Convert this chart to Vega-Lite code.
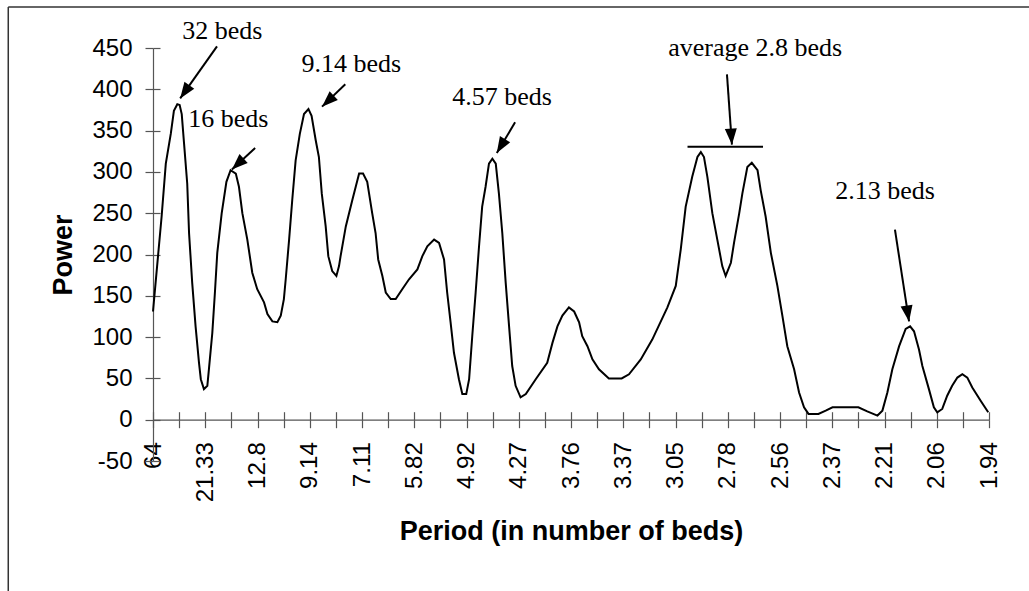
{
  "$schema": "https://vega.github.io/schema/vega-lite/v6.json",
  "width": 836,
  "height": 413,
  "autosize": {"type": "none"},
  "padding": {"left": 153, "top": 48, "right": 40, "bottom": 130},
  "background": "white",
  "config": {"view": {"stroke": null}, "font": "Liberation Sans"},
  "datasets": {
    "curve": [
      {"k": 1.00, "power": 131}, {"k": 1.10, "power": 166}, {"k": 1.33, "power": 246}, {"k": 1.49, "power": 310},
      {"k": 1.68, "power": 346}, {"k": 1.80, "power": 374}, {"k": 1.93, "power": 382}, {"k": 2.02, "power": 381},
      {"k": 2.10, "power": 370}, {"k": 2.19, "power": 334}, {"k": 2.31, "power": 286}, {"k": 2.38, "power": 226},
      {"k": 2.50, "power": 166}, {"k": 2.63, "power": 113}, {"k": 2.76, "power": 69}, {"k": 2.83, "power": 49},
      {"k": 2.95, "power": 37}, {"k": 3.08, "power": 41}, {"k": 3.14, "power": 61}, {"k": 3.27, "power": 105},
      {"k": 3.37, "power": 154}, {"k": 3.46, "power": 202}, {"k": 3.63, "power": 250}, {"k": 3.81, "power": 288},
      {"k": 3.97, "power": 302}, {"k": 4.17, "power": 298}, {"k": 4.29, "power": 282}, {"k": 4.42, "power": 250},
      {"k": 4.61, "power": 218}, {"k": 4.80, "power": 178}, {"k": 4.99, "power": 158}, {"k": 5.25, "power": 142},
      {"k": 5.38, "power": 128}, {"k": 5.57, "power": 119}, {"k": 5.76, "power": 118}, {"k": 5.89, "power": 126},
      {"k": 6.01, "power": 146}, {"k": 6.08, "power": 170}, {"k": 6.21, "power": 218}, {"k": 6.33, "power": 266},
      {"k": 6.46, "power": 314}, {"k": 6.62, "power": 346}, {"k": 6.78, "power": 370}, {"k": 6.95, "power": 376},
      {"k": 7.07, "power": 368}, {"k": 7.23, "power": 338}, {"k": 7.35, "power": 318}, {"k": 7.46, "power": 274},
      {"k": 7.61, "power": 234}, {"k": 7.71, "power": 198}, {"k": 7.86, "power": 180}, {"k": 8.02, "power": 174},
      {"k": 8.12, "power": 186}, {"k": 8.18, "power": 198}, {"k": 8.38, "power": 234}, {"k": 8.63, "power": 266},
      {"k": 8.76, "power": 282}, {"k": 8.89, "power": 298}, {"k": 9.04, "power": 298}, {"k": 9.20, "power": 288},
      {"k": 9.27, "power": 274}, {"k": 9.39, "power": 250}, {"k": 9.52, "power": 226}, {"k": 9.62, "power": 194},
      {"k": 9.78, "power": 174}, {"k": 9.91, "power": 154}, {"k": 10.10, "power": 146}, {"k": 10.29, "power": 146},
      {"k": 10.54, "power": 158}, {"k": 10.80, "power": 170}, {"k": 11.12, "power": 182}, {"k": 11.31, "power": 198},
      {"k": 11.50, "power": 210}, {"k": 11.76, "power": 218}, {"k": 11.95, "power": 214}, {"k": 12.14, "power": 194},
      {"k": 12.26, "power": 154}, {"k": 12.39, "power": 118}, {"k": 12.52, "power": 81}, {"k": 12.71, "power": 49},
      {"k": 12.84, "power": 31}, {"k": 12.99, "power": 31}, {"k": 13.10, "power": 49}, {"k": 13.22, "power": 101},
      {"k": 13.35, "power": 154}, {"k": 13.48, "power": 210}, {"k": 13.60, "power": 258}, {"k": 13.73, "power": 282},
      {"k": 13.86, "power": 310}, {"k": 13.99, "power": 316}, {"k": 14.12, "power": 310}, {"k": 14.24, "power": 274},
      {"k": 14.37, "power": 226}, {"k": 14.50, "power": 166}, {"k": 14.63, "power": 113}, {"k": 14.75, "power": 65},
      {"k": 14.88, "power": 41}, {"k": 15.07, "power": 27}, {"k": 15.27, "power": 31}, {"k": 15.65, "power": 49},
      {"k": 16.09, "power": 69}, {"k": 16.29, "power": 93}, {"k": 16.48, "power": 113}, {"k": 16.67, "power": 126},
      {"k": 16.92, "power": 136}, {"k": 17.12, "power": 131}, {"k": 17.31, "power": 118}, {"k": 17.43, "power": 101},
      {"k": 17.63, "power": 89}, {"k": 17.82, "power": 73}, {"k": 18.07, "power": 61}, {"k": 18.45, "power": 50},
      {"k": 18.94, "power": 50}, {"k": 19.22, "power": 55}, {"k": 19.67, "power": 73}, {"k": 20.11, "power": 97},
      {"k": 20.69, "power": 136}, {"k": 21.01, "power": 162}, {"k": 21.20, "power": 206}, {"k": 21.39, "power": 258},
      {"k": 21.64, "power": 294}, {"k": 21.84, "power": 318}, {"k": 21.97, "power": 324}, {"k": 22.09, "power": 318},
      {"k": 22.22, "power": 294}, {"k": 22.41, "power": 250}, {"k": 22.60, "power": 218}, {"k": 22.79, "power": 186},
      {"k": 22.92, "power": 174}, {"k": 23.12, "power": 190}, {"k": 23.24, "power": 214}, {"k": 23.44, "power": 250},
      {"k": 23.56, "power": 274}, {"k": 23.75, "power": 306}, {"k": 23.92, "power": 311}, {"k": 24.14, "power": 302},
      {"k": 24.26, "power": 278}, {"k": 24.45, "power": 246}, {"k": 24.65, "power": 202}, {"k": 24.90, "power": 162},
      {"k": 25.09, "power": 126}, {"k": 25.28, "power": 89}, {"k": 25.54, "power": 61}, {"k": 25.73, "power": 33},
      {"k": 25.92, "power": 15}, {"k": 26.09, "power": 7}, {"k": 26.47, "power": 7}, {"k": 26.75, "power": 11},
      {"k": 27.01, "power": 15}, {"k": 28.00, "power": 15}, {"k": 28.34, "power": 10}, {"k": 28.73, "power": 5},
      {"k": 28.92, "power": 11}, {"k": 29.11, "power": 33}, {"k": 29.30, "power": 61}, {"k": 29.56, "power": 89},
      {"k": 29.81, "power": 110}, {"k": 29.98, "power": 113}, {"k": 30.13, "power": 107}, {"k": 30.32, "power": 85},
      {"k": 30.45, "power": 65}, {"k": 30.70, "power": 37}, {"k": 30.89, "power": 15}, {"k": 31.02, "power": 9},
      {"k": 31.21, "power": 13}, {"k": 31.40, "power": 29}, {"k": 31.59, "power": 41}, {"k": 31.79, "power": 51},
      {"k": 31.98, "power": 55}, {"k": 32.17, "power": 51}, {"k": 32.36, "power": 39}, {"k": 32.68, "power": 23},
      {"k": 32.97, "power": 9}
    ],
    "notes": [
      {"label": "32 beds", "tx": 3.65, "ty": 471, "x1": 3.45, "y1": 452, "x2": 2.04, "y2": 389, "angle": 215},
      {"label": "16 beds", "tx": 3.88, "ty": 364, "x1": 4.91, "y1": 329, "x2": 4.02, "y2": 303, "angle": 227},
      {"label": "9.14 beds", "tx": 8.59, "ty": 431, "x1": 8.36, "y1": 406, "x2": 7.47, "y2": 379, "angle": 227},
      {"label": "4.57 beds", "tx": 14.36, "ty": 391, "x1": 14.86, "y1": 360, "x2": 14.16, "y2": 323, "angle": 211},
      {"label": "average 2.8 beds", "tx": 24.05, "ty": 450, "x1": 22.97, "y1": 418, "x2": 23.16, "y2": 333, "angle": 176},
      {"label": "2.13 beds", "tx": 29.02, "ty": 277, "x1": 29.40, "y1": 230, "x2": 29.94, "y2": 119, "angle": 171}
    ],
    "bar": [
      {"from": 21.46, "to": 24.35, "level": 330.5}
    ]
  },
  "resolve": {"axis": {"x": "independent", "y": "independent"}},
  "layer": [
    {
      "data": {"name": "curve"},
      "mark": {"type": "line", "color": "black", "strokeWidth": 2},
      "encoding": {
        "x": {
          "field": "k", "type": "quantitative",
          "scale": {"domain": [1, 33], "nice": false, "zero": false},
          "axis": {
            "orient": "bottom", "offset": -41.3,
            "values": [1,2,3,4,5,6,7,8,9,10,11,12,13,14,15,16,17,18,19,20,21,22,23,24,25,26,27,28,29,30,31,32,33],
            "labelExpr": "['64','','21.33','','12.8','','9.14','','7.11','','5.82','','4.92','','4.27','','3.76','','3.37','','3.05','','2.78','','2.56','','2.37','','2.21','','2.06','','1.94'][datum.value - 1]",
            "labelAngle": 270, "labelFontSize": 24, "labelColor": "black", "labelPadding": 14,
            "labelOverlap": false, "labelFlush": false, "labelBound": false,
            "tickSize": 8, "tickColor": "#555", "tickWidth": 1.2, "domainColor": "#555", "domainWidth": 1.2,
            "grid": false,
            "title": "Period (in number of beds)", "titleFontSize": 27, "titleFontWeight": "bold",
            "titleColor": "black", "titlePadding": 17
          }
        },
        "y": {
          "field": "power", "type": "quantitative",
          "scale": {"domain": [-50, 450], "nice": false, "zero": false},
          "axis": {
            "orient": "left",
            "values": [-50, 0, 50, 100, 150, 200, 250, 300, 350, 400, 450],
            "labelExpr": "'' + datum.value",
            "labelFontSize": 24, "labelColor": "black", "labelPadding": 13,
            "tickSize": 8, "tickColor": "#555", "tickWidth": 1.2, "domainColor": "#555", "domainWidth": 1.2,
            "grid": false,
            "title": "Power", "titleFontSize": 27, "titleFontWeight": "bold", "titleColor": "black", "titlePadding": 14
          }
        }
      }
    },
    {
      "data": {"name": "notes"},
      "mark": {"type": "rule", "color": "black", "strokeWidth": 2},
      "encoding": {
        "x": {
          "field": "x1", "type": "quantitative",
          "axis": {
            "orient": "bottom", "offset": -41.3,
            "values": [1,2,3,4,5,6,7,8,9,10,11,12,13,14,15,16,17,18,19,20,21,22,23,24,25,26,27,28,29,30,31,32,33],
            "labels": false, "domain": false, "grid": false, "title": null,
            "tickSize": -8, "tickColor": "#555", "tickWidth": 1.2
          }
        },
        "y": {
          "field": "y1", "type": "quantitative",
          "axis": {
            "orient": "left",
            "values": [-50, 0, 50, 100, 150, 200, 250, 300, 350, 400, 450],
            "labels": false, "domain": false, "grid": false, "title": null,
            "tickSize": -7, "tickColor": "#555", "tickWidth": 1.2
          }
        },
        "x2": {"field": "x2"},
        "y2": {"field": "y2"}
      }
    },
    {
      "data": {"name": "notes"},
      "mark": {"type": "point", "shape": "M0,0L-0.6,1.6L0.6,1.6Z", "filled": true, "color": "black", "opacity": 1, "size": 400, "strokeWidth": 0},
      "encoding": {
        "x": {"field": "x2", "type": "quantitative", "axis": null},
        "y": {"field": "y2", "type": "quantitative", "axis": null},
        "angle": {"field": "angle", "type": "quantitative", "scale": null}
      }
    },
    {
      "data": {"name": "notes"},
      "mark": {"type": "text", "font": "Liberation Serif", "fontSize": 26, "align": "center", "baseline": "middle", "color": "black"},
      "encoding": {
        "x": {"field": "tx", "type": "quantitative", "axis": null},
        "y": {"field": "ty", "type": "quantitative", "axis": null},
        "text": {"field": "label"}
      }
    },
    {
      "data": {"name": "bar"},
      "mark": {"type": "rule", "color": "black", "strokeWidth": 2},
      "encoding": {
        "x": {"field": "from", "type": "quantitative", "axis": null},
        "x2": {"field": "to"},
        "y": {"field": "level", "type": "quantitative", "axis": null}
      }
    },
    {
      "data": {"values": [{}]},
      "mark": {"type": "rule", "color": "#333", "strokeWidth": 1.5, "clip": false},
      "encoding": {
        "x": {"datum": -4.54, "type": "quantitative", "axis": null},
        "y": {"datum": 499.6, "type": "quantitative", "axis": null},
        "y2": {"datum": -400}
      }
    },
    {
      "data": {"values": [{}]},
      "mark": {"type": "rule", "color": "#333", "strokeWidth": 1.5, "clip": false},
      "encoding": {
        "x": {"datum": -4.54, "type": "quantitative", "axis": null},
        "x2": {"datum": 60},
        "y": {"datum": 499.6, "type": "quantitative", "axis": null}
      }
    }
  ]
}
